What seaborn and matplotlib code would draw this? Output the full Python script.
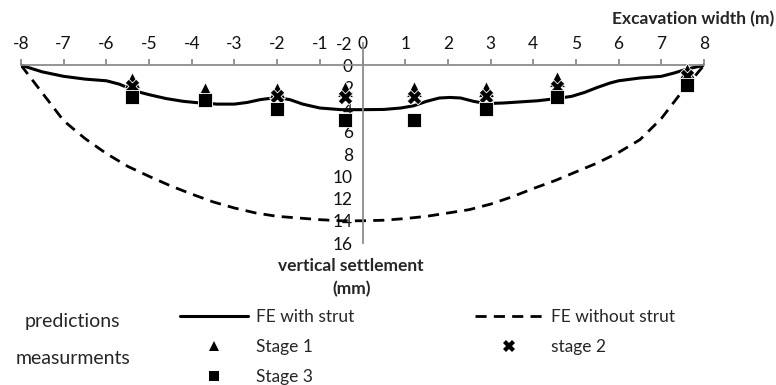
import matplotlib
matplotlib.use("Agg")
import matplotlib.pyplot as plt
import seaborn as sns
from matplotlib.lines import Line2D

# FE prediction with strut (solid line)
fe_strut_x = [-8, -7.5, -7, -6.5, -6, -5.7, -5.45, -5.2, -5, -4.6, -4.2, -3.8, -3.4, -3, -2.7, -2.4,
              -2, -1.7, -1.4, -1, -0.5, 0, 0.5, 0.9, 1.2, 1.5, 1.8, 2.05, 2.3, 2.6, 2.9, 3.3,
              3.7, 4.1, 4.55, 4.9, 5.2, 5.5, 5.8, 6, 6.5, 7, 7.3, 7.6, 8]
fe_strut_y = [0, 0.6, 1.0, 1.25, 1.4, 1.7, 2.1, 2.45, 2.65, 3.0, 3.25, 3.4, 3.5, 3.5, 3.35, 3.1,
              2.9, 3.1, 3.5, 3.85, 4.0, 4.0, 3.98, 3.85, 3.65, 3.25, 2.95, 2.9, 2.95, 3.25, 3.45, 3.4,
              3.3, 3.2, 3.0, 2.8, 2.45, 2.0, 1.6, 1.4, 1.15, 1.0, 0.7, 0.35, 0]

# FE prediction without strut (dashed line)
fe_free_x = [-8, -7.5, -7, -6.5, -6, -5.5, -5, -4.5, -4, -3.5, -3, -2.5, -2, -1.5, -1, -0.5, 0,
             0.5, 1, 1.5, 2, 2.5, 3, 3.5, 4, 4.5, 5, 5.5, 6, 6.5, 7, 7.5, 8]
fe_free_y = [0, 2.5, 5.0, 6.6, 7.95, 9.1, 10.0, 10.85, 11.6, 12.3, 12.85, 13.3, 13.6, 13.75, 13.9, 14.0, 14.0,
             13.95, 13.8, 13.6, 13.3, 13.0, 12.5, 11.85, 11.1, 10.4, 9.6, 8.8, 7.85, 6.7, 4.8, 2.3, 0]

# measurements
meas_x = [-5.4, -3.7, -2.0, -0.4, 1.2, 2.9, 4.55, 7.6]
stage1 = [1.3, 2.2, 2.2, 2.1, 2.1, 2.1, 1.2, 0.5]
stage2 = [1.9, 3.1, 2.8, 2.9, 2.9, 2.8, 1.95, 1.0]
stage3 = [2.9, 3.1, 3.9, 4.9, 4.9, 3.9, 2.85, 1.8]

x_ticks = list(range(-8, 9))
y_ticks = list(range(-2, 17, 2))

sns.set_style("white")
plt.rcParams['font.family'] = ['Lato', 'DejaVu Sans']
plt.rcParams['axes.unicode_minus'] = False

fig = plt.figure(figsize=(7.76, 3.85), dpi=100)
ax = fig.add_axes([21 / 776, 1 - 243 / 385, (704 - 21) / 776, 200 / 385])

dash = (0, (4, 2.6))
sns.lineplot(x=fe_strut_x, y=fe_strut_y, ax=ax, color='black', lw=2.2, sort=False)
sns.lineplot(x=fe_free_x, y=fe_free_y, ax=ax, color='black', lw=2.0, sort=False, linestyle=dash)

sns.scatterplot(x=meas_x, y=stage1, ax=ax, marker='^', s=130, color='black',
                edgecolor='white', linewidth=0.6, zorder=3)
sns.scatterplot(x=meas_x, y=stage2, ax=ax, marker='X', s=110, color='black',
                edgecolor='white', linewidth=0.6, zorder=4)
sns.scatterplot(x=meas_x, y=stage3, ax=ax, marker='s', s=95, color='black',
                edgecolor='white', linewidth=0.6, zorder=5)

ax.set_xlim(-8, 8)
ax.set_ylim(16, -2)
ax.set_xticks(x_ticks)
ax.set_yticks(y_ticks)

axis_grey = '#8c8c8c'
for s in ['bottom', 'right']:
    ax.spines[s].set_visible(False)
for s in ['top', 'left']:
    ax.spines[s].set_position(('data', 0))
    ax.spines[s].set_color(axis_grey)
    ax.spines[s].set_linewidth(1.3)
ax.xaxis.tick_top()
ax.tick_params(axis='x', direction='out', length=4.5, width=1.3, color=axis_grey,
               pad=5, labelsize=12.5, labelcolor='#111111')
ax.tick_params(axis='y', direction='out', length=4, width=1.3, color=axis_grey,
               pad=3, labelsize=12.5, labelcolor='#111111')
ax.set_xlabel('')
ax.set_ylabel('')

fig.text(0.998, 1 - 19 / 385, 'Excavation width (m)', ha='right', va='center',
         fontsize=12.5, fontweight='bold')
fig.text(351 / 776, 1 - 266 / 385, 'vertical settlement', ha='center', va='center',
         fontsize=12.5, fontweight='bold')
fig.text(352 / 776, 1 - 289 / 385, '(mm)', ha='center', va='center',
         fontsize=12.5, fontweight='bold')

fig.text(72 / 776, 1 - 322 / 385, 'predictions', ha='center', va='center', fontsize=14)
fig.text(73 / 776, 1 - 358 / 385, 'measurments', ha='center', va='center', fontsize=14)

handles = [
    Line2D([], [], color='black', lw=2.2),
    Line2D([], [], color='black', marker='^', ls='none', ms=7, mew=0),
    Line2D([], [], color='black', marker='s', ls='none', ms=7, mew=0),
    Line2D([], [], color='black', lw=2.0, linestyle=dash),
    Line2D([], [], color='black', marker='X', ls='none', ms=8.5, mew=0),
]
labels = ['FE with strut', 'Stage 1', 'Stage 3', 'FE without strut', 'stage 2']
fig.legend(handles, labels, loc='upper left', ncol=2,
           bbox_to_anchor=(180 / 776, 1 - 309 / 385), frameon=False,
           fontsize=12.5, handlelength=3.9, handletextpad=0.45,
           columnspacing=7.0, labelspacing=0.8, borderpad=0, borderaxespad=0)

fig.savefig('out.png', dpi=100)
